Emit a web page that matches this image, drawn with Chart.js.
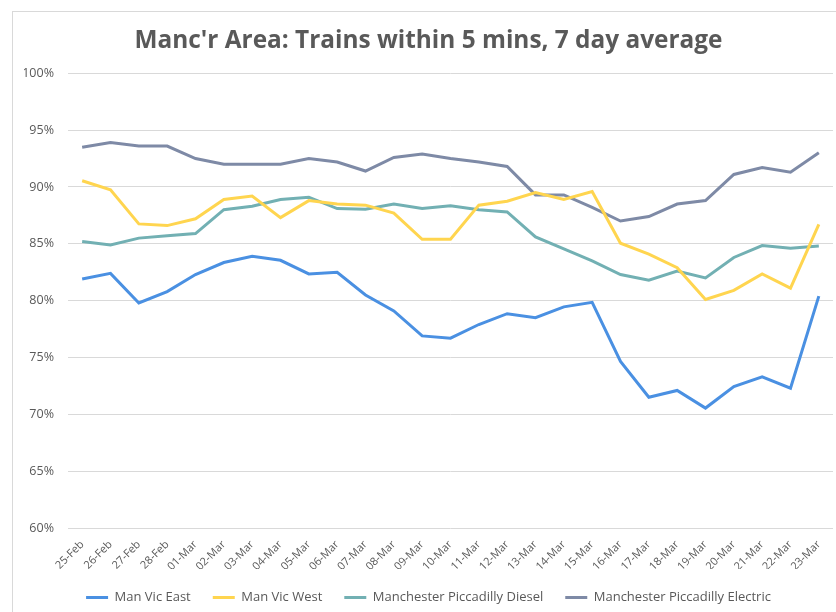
<!DOCTYPE html>
<html>
<head>
<meta charset="utf-8">
<title>Manc'r Area: Trains within 5 mins</title>
<script src="https://cdn.jsdelivr.net/npm/chart.js@4.4.0/dist/chart.umd.min.js"></script>
<style>
  html, body { margin: 0; padding: 0; background: #fff; }
  #wrap { width: 836px; height: 612px; }
</style>
</head>
<body>
<div id="wrap"><canvas id="lineChart"></canvas></div>
<script>
const days = ['25-Feb', '26-Feb', '27-Feb', '28-Feb', '01-Mar', '02-Mar', '03-Mar', '04-Mar', '05-Mar',
  '06-Mar', '07-Mar', '08-Mar', '09-Mar', '10-Mar', '11-Mar', '12-Mar', '13-Mar', '14-Mar', '15-Mar',
  '16-Mar', '17-Mar', '18-Mar', '19-Mar', '20-Mar', '21-Mar', '22-Mar', '23-Mar'];

const manVicEast = [81.9, 82.4, 79.8, 80.8, 82.3, 83.35, 83.9, 83.55, 82.35, 82.5, 80.5, 79.1, 76.9, 76.7,
  77.9, 78.85, 78.5, 79.45, 79.85, 74.65, 71.5, 72.1, 70.55, 72.45, 73.3, 72.3, 80.4];
const manVicWest = [90.55, 89.75, 86.75, 86.6, 87.2, 88.9, 89.2, 87.3, 88.8, 88.5, 88.4, 87.7, 85.4, 85.4,
  88.4, 88.75, 89.5, 88.9, 89.6, 85.05, 84.1, 82.9, 80.1, 80.9, 82.35, 81.1, 86.7];
const piccDiesel = [85.2, 84.9, 85.5, 85.7, 85.9, 88.0, 88.3, 88.9, 89.1, 88.1, 88.05, 88.5, 88.1, 88.35,
  88.0, 87.8, 85.6, 84.55, 83.5, 82.3, 81.8, 82.6, 82.0, 83.8, 84.85, 84.6, 84.8];
const piccElectric = [93.5, 93.9, 93.6, 93.6, 92.5, 92.0, 92.0, 92.0, 92.5, 92.2, 91.4, 92.6, 92.9, 92.5,
  92.2, 91.8, 89.3, 89.3, 88.2, 87.0, 87.4, 88.5, 88.8, 91.1, 91.7, 91.3, 93.0];

const yMin = 60;
const yMax = 100;
const yStep = 5;

const fontFamily = "'Open Sans', sans-serif";
const textGrey = '#595959';

// thin frame like the Excel chart border
const frame = {
  id: 'frame',
  beforeDraw(chart) {
    const ctx = chart.ctx;
    ctx.save();
    ctx.fillStyle = '#fff';
    ctx.fillRect(0, 0, chart.width, chart.height);
    ctx.strokeStyle = '#d9d9d9';
    ctx.lineWidth = 1;
    ctx.strokeRect(12.5, 11.5, chart.width + 10, chart.height + 10);
    ctx.restore();
  }
};

function series(label, data, color) {
  return {
    label: label,
    data: data,
    borderColor: color,
    backgroundColor: color,
    borderWidth: 3,
    pointRadius: 0,
    tension: 0
  };
}

new Chart(document.getElementById('lineChart'), {
  type: 'line',
  data: {
    labels: days,
    datasets: [
      series('Man Vic East', manVicEast, '#4a90e2'),
      series('Man Vic West', manVicWest, '#ffd54f'),
      series('Manchester Piccadilly Diesel', piccDiesel, '#72b0b3'),
      series('Manchester Piccadilly Electric', piccElectric, '#7e8aa6')
    ]
  },
  options: {
    responsive: true,
    maintainAspectRatio: false,
    animation: false,
    layout: { padding: { left: 24, right: 3, top: 0, bottom: -2 } },
    plugins: {
      title: {
        display: true,
        text: "Manc'r Area: Trains within 5 mins, 7 day average",
        color: textGrey,
        font: { family: fontFamily, size: 24.4, weight: 'bold' },
        padding: { top: 26, bottom: 18 }
      },
      legend: {
        position: 'bottom',
        labels: {
          color: textGrey,
          font: { family: fontFamily, size: 13 },
          usePointStyle: true,
          pointStyle: 'line',
          pointStyleWidth: 22,
          boxHeight: 3,
          padding: 22
        }
      },
      tooltip: { enabled: false }
    },
    scales: {
      x: {
        offset: true,
        grid: { display: false },
        border: { display: false },
        afterFit: scale => { scale.height = 41; },
        ticks: {
          color: textGrey,
          font: { family: fontFamily, size: 11 },
          minRotation: 45,
          maxRotation: 45,
          autoSkip: false,
          padding: 2
        }
      },
      y: {
        min: yMin,
        max: yMax,
        border: { display: false },
        grid: { color: '#d9d9d9', lineWidth: 1, drawTicks: false },
        afterFit: scale => { scale.width = 44; },
        ticks: {
          stepSize: yStep,
          color: textGrey,
          font: { family: fontFamily, size: 12.5 },
          padding: 14,
          callback: v => v + '%'
        }
      }
    }
  },
  plugins: [frame]
});
</script>
</body>
</html>
